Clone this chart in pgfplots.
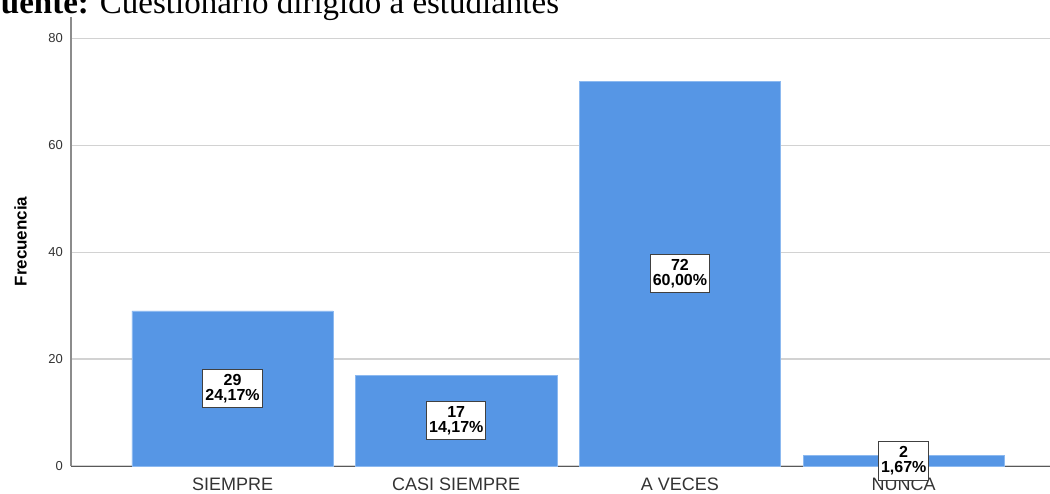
\documentclass[border=0pt]{standalone}
\usepackage{pgfplots}
\pgfplotsset{compat=1.18}
\usepackage{pgfplotstable}
\usepackage{fontspec}
\setmainfont{Liberation Sans}
\newfontfamily\serifTimes{Liberation Serif}
\definecolor{barblue}{RGB}{86,150,229}
\definecolor{bardraw}{RGB}{140,185,240}

\pgfplotstableread{
x n pct
0 29 24.17
1 17 14.17
2 72 60.00
3 2 1.67
}\datatable

\begin{document}
\begin{tikzpicture}
\begin{axis}[
  at={(71pt,27pt)}, anchor=south west,
  scale only axis, width=979pt, height=449pt,
  xmin=-0.722, xmax=3.654, ymin=0, ymax=84,
  /pgf/number format/assume math mode=true,
  set layers=standard,
  axis lines*=left,
  x axis line style={black!65, line width=1pt},
  y axis line style={black!45, line width=1.5pt},
  ytick={0,20,40,60,80},
  ymajorgrids, grid style={gray!35, line width=1.2pt},
  xtick={0,1,2,3},
  xticklabels={SIEMPRE, CASI SIEMPRE, A VECES, NUNCA},
  major tick length=0pt,
  tick style={draw=none},
  yticklabel style={font=\fontsize{13}{15}\selectfont, text=black!80, anchor=east, inner sep=0pt, xshift=-8pt},
  xticklabel style={font=\fontsize{18}{20}\selectfont, text=black!80, anchor=north, inner sep=0pt, yshift=-12pt},
  ylabel={Frecuencia},
  every axis y label/.style={at={(axis description cs:-0.0516,0.5)}, rotate=90, anchor=center, font=\fontsize{17}{19}\selectfont\bfseries},
]
\addplot[ybar, bar width=0.9, fill=barblue, draw=bardraw, line width=0.6pt] table[x=x, y=n]{\datatable};
\addplot[draw=none, mark=none,
  point meta=\thisrow{n},
  visualization depends on={\thisrow{pct}\as\pctval},
  nodes near coords={\pgfmathprintnumber[fixed, precision=0]{\pgfplotspointmeta}\\\pgfmathprintnumber[fixed, fixed zerofill, precision=2, use comma]{\pctval}\%},
  nodes near coords align={center},
  every node near coord/.append style={fill=white, draw=black!75, line width=0.9pt, inner xsep=2.5pt, inner ysep=5pt, align=center, font=\fontsize{16}{15}\selectfont\bfseries, text=black, anchor=center}
] table[x=x, y expr=\thisrow{n}/2]{\datatable};
\end{axis}
\node[anchor=base west, inner sep=0pt, font=\serifTimes\fontsize{33}{36}\selectfont] at (-19.4pt,479pt) {\textbf{Fuente:} Cuestionario dirigido a estudiantes};
\pgfresetboundingbox
\useasboundingbox (0,0) rectangle (1050pt,493pt);
\end{tikzpicture}
\end{document}
